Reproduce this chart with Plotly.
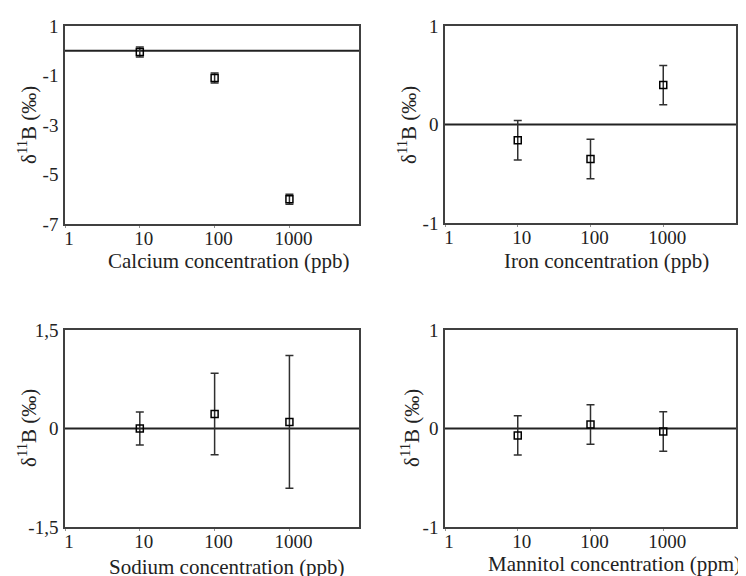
import plotly.graph_objects as go

# ---- data ----
conc = [10, 100, 1000]
calcium_d11B = [-0.05, -1.1, -6.0]
calcium_err = [0.2, 0.2, 0.2]
iron_d11B = [-0.16, -0.35, 0.4]
iron_err = [0.2, 0.2, 0.2]
sodium_d11B = [0.0, 0.22, 0.1]
sodium_err = [0.25, 0.62, 1.01]
mannitol_d11B = [-0.07, 0.04, -0.03]
mannitol_err = [0.2, 0.2, 0.2]

x_titles = ["Calcium concentration (ppb)", "Iron concentration (ppb)",
            "Sodium concentration (ppb)", "Mannitol concentration (ppm)"]
y_title = "δ<sup>11</sup>B (‰)"
x_tickvals = [1, 10, 100, 1000]
x_ticktext = ["1", "10", "100", "1000"]
y_ranges = [[-7, 1], [-1, 1], [-1.5, 1.5], [-1, 1]]
y_tickvals = [[1, -1, -3, -5, -7], [1, 0, -1], [1.5, 0, -1.5], [1, 0, -1]]
y_ticktext = [["1", "-1", "-3", "-5", "-7"], ["1", "0", "-1"], ["1,5", "0", "-1,5"], ["1", "0", "-1"]]

# page body has an 8px margin; figure fills the rest of the window
OFF = 8
W, H = 746 - OFF, 576 - OFF
FONT = "Liberation Serif"
TXT = "#222222"
boxes = [(65, 359, 26, 224), (445, 736, 26, 223), (65, 359, 330, 527), (445, 736, 330, 527)]
x_ranges = [[0, 3.93], [0, 4.0], [0, 3.93], [0, 4.0]]
xt_pos = [(228, 261), (606, 261), (227, 567), (614, 564)]
yt_pos = [(27, 125), (407, 125), (27, 428), (410, 428)]


def fx(px):
    return (px - OFF) / W


def fy(px):
    return 1 - (px - OFF) / H


series = [(calcium_d11B, calcium_err), (iron_d11B, iron_err),
          (sodium_d11B, sodium_err), (mannitol_d11B, mannitol_err)]

fig = go.Figure()
layout = dict(template="none", width=W, height=H, margin=dict(l=0, r=0, t=0, b=0, pad=0),
              paper_bgcolor="white", plot_bgcolor="white", showlegend=False,
              font=dict(family=FONT, color=TXT, size=15))
annotations = []
shapes = []
for i, (box, (yv, ye)) in enumerate(zip(boxes, series)):
    n = i + 1
    xa = "x" if n == 1 else f"x{n}"
    ya = "y" if n == 1 else f"y{n}"
    x0, x1, y0, y1 = box
    layout[f"xaxis{'' if n == 1 else n}"] = dict(
        type="log", range=x_ranges[i], domain=[fx(x0), fx(x1)], anchor=ya,
        tickvals=x_tickvals, ticktext=x_ticktext, showgrid=False, zeroline=False,
        automargin=False,
        showline=True, linecolor="#404040", linewidth=1.5, mirror=True,
        ticks="outside", ticklen=2, tickcolor="#909090", tickwidth=1,
        ticklabelshift=4, ticklabelstandoff=-6,
        tickfont=dict(size=19, family=FONT, color=TXT))
    layout[f"yaxis{'' if n == 1 else n}"] = dict(
        range=y_ranges[i], domain=[fy(y1), fy(y0)], anchor=xa,
        tickvals=y_tickvals[i], ticktext=y_ticktext[i], showgrid=False, zeroline=False,
        automargin=False,
        showline=True, linecolor="#404040", linewidth=1.5, mirror=True,
        ticks="", ticklabelstandoff=1,
        tickfont=dict(size=19, family=FONT, color=TXT))
    fig.add_trace(go.Scatter(
        x=conc, y=yv, mode="markers", xaxis=xa, yaxis=ya,
        marker=dict(symbol="square-open", size=7, color="black", line=dict(width=1.5)),
        error_y=dict(type="data", array=ye, visible=True, color="#303030",
                     thickness=1.5, width=4)))
    shapes.append(dict(type="line", xref=f"{xa} domain", yref=ya, x0=0, x1=1, y0=0, y1=0,
                       line=dict(color="#222222", width=2), layer="below"))
    annotations.append(dict(text=x_titles[i], xref="paper", yref="paper",
                            x=fx(xt_pos[i][0]), y=fy(xt_pos[i][1]), showarrow=False,
                            xanchor="center", yanchor="middle",
                            font=dict(size=21, family=FONT, color=TXT)))
    annotations.append(dict(text=y_title, xref="paper", yref="paper",
                            x=fx(yt_pos[i][0]), y=fy(yt_pos[i][1]), showarrow=False,
                            textangle=-90, xanchor="center", yanchor="middle",
                            font=dict(size=21, family=FONT, color=TXT)))

layout["annotations"] = annotations
layout["shapes"] = shapes
fig.update_layout(**layout)
fig.write_html("out.html")
